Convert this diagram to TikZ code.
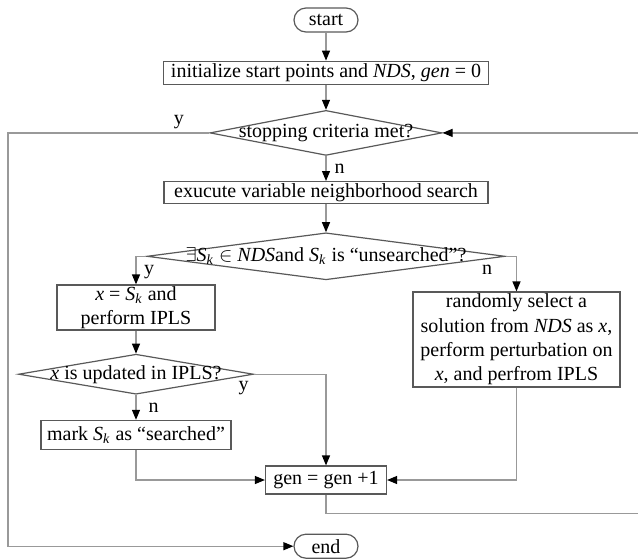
\documentclass[tikz,border=0pt]{standalone}
\usepackage{fontspec}
\setmainfont{Liberation Serif}
\usetikzlibrary{shapes.geometric, arrows.meta, positioning}

\newcommand{\Sk}{\textit{S}\textsubscript{\textit{k}}}
\newcommand{\diatext}[1]{\makebox[0pt]{#1}}

\begin{document}
\begin{tikzpicture}[
  x=0.5pt, y=-0.5pt,
  font=\fontsize{10}{12.2}\selectfont,
  >={Triangle[length=5pt, width=4pt, color=black]},
  terminal/.style={
    rectangle, rounded corners=6pt, draw=black!65, line width=0.6pt,
    minimum width=32pt, minimum height=12pt, inner sep=0.5pt
  },
  process/.style={
    rectangle, draw=black!65, line width=0.6pt, align=center, inner sep=0.5pt
  },
  decision/.style={
    diamond, draw=black!65, line width=0.6pt, aspect=4, inner sep=0pt
  },
  arrow/.style={->, draw=black!40, line width=0.6pt},
  tag/.style={inner sep=1pt}
]

\useasboundingbox (0,0) rectangle (638,558);

% rails for the two long loops
\coordinate (leftrail) at (8,0);
\coordinate (rightrail) at (640,0);

% Main column
\node[terminal] (start) at (326,20) {start};
\node[process, below=14pt of start, minimum width=162.5pt, minimum height=11.5pt] (init) {initialize start points and \textit{NDS}, \textit{gen} = 0};
\node[decision, below=12.5pt of init, minimum width=116pt, minimum height=22.5pt] (stop) {\diatext{stopping criteria met?}};
\node[process, below=12.5pt of stop, minimum width=162pt, minimum height=11pt] (vns) {exucute variable neighborhood search};
\node[decision, below=14pt of vns, minimum width=179pt, minimum height=23.5pt] (exist) {\diatext{$\exists$\Sk{} $\in$ \textit{NDS}and \Sk{} is ``unsearched''?}};

% Left branch
\node[process, minimum width=79pt, minimum height=22.5pt] (pick) at (136,307.5) {\textit{x} = \Sk{} and\\perform IPLS};
\node[decision, below=11.5pt of pick, minimum width=117.5pt, minimum height=20pt] (upd) {\diatext{\textit{x} is updated in IPLS?}};
\node[process, below=12.5pt of upd, minimum width=95pt, minimum height=14.5pt] (mark) {mark \Sk{} as ``searched''};

% Right branch
\node[process, minimum width=103.5pt, minimum height=47.5pt] (rand) at (516.5,339.5) {randomly select a\\solution from \textit{NDS} as \textit{x},\\perform perturbation on\\\textit{x}, and perfrom IPLS};

% Counter and end
\node[process, minimum width=60.5pt, minimum height=14pt] (gen) at (326,480) {gen = gen +1};
\node[terminal, below=19.5pt of gen] (end) {end};

% Arrows with labels
\draw[arrow] (start) -- (init);
\draw[arrow] (init) -- (stop);
\draw[arrow] (stop) -- node[tag, right=3pt] {n} (vns);
\draw[arrow] (vns) -- (exist);
\draw[arrow] (exist.west) -| node[tag, pos=0.5, below right=3pt and 2.75pt] {y} (pick);
\draw[arrow] (exist.east) node[tag, below left=3pt and 5.5pt] {n} -| (rand);
\draw[arrow] (pick) -- (upd);
\draw[arrow] (upd) -- node[tag, right=5pt] {n} (mark);
\draw[arrow] (upd.east) node[tag, below left=2.5pt and 1.5pt] {y} -| (gen);
\draw[arrow] (mark) |- (gen);
\draw[arrow] (rand) |- (gen);
\draw[arrow] (gen.south) -- ++(0,19) -| (stop.east -| rightrail) -- (stop.east);
\draw[arrow] (stop.west) node[tag, above left=0.5pt and 11.5pt] {y} -- (stop.west -| leftrail) |- (end);

\end{tikzpicture}
\end{document}
